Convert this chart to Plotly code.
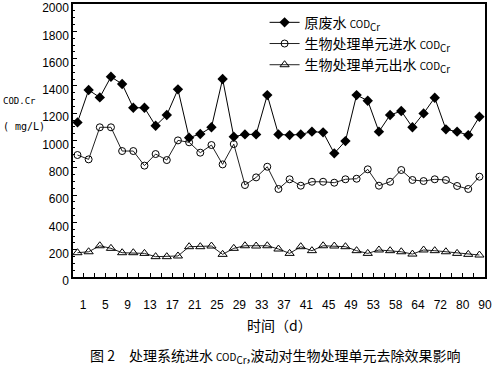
import plotly.graph_objects as go

# ---- data ----
day_labels = ["1", "5", "9", "13", "17", "21", "25", "29", "33", "37",
              "41", "45", "49", "53", "58", "64", "72", "80", "90"]

y_ticks = [0, 200, 400, 600, 800, 1000, 1200, 1400, 1600, 1800, 2000]

raw_cod = [1133, 1370, 1316, 1467, 1414, 1240, 1240, 1108, 1187, 1375,
           1021, 1048, 1097, 1451, 1028, 1045, 1045, 1333, 1045, 1040,
           1045, 1065, 1060, 906, 996, 1333, 1292, 1065, 1187, 1216,
           1097, 1199, 1314, 1082, 1065, 1040, 1174]

inlet_cod = [894, 862, 1097, 1097, 923, 923, 816, 901, 857, 1001,
             987, 911, 967, 825, 974, 674, 730, 808, 645, 716,
             669, 698, 698, 691, 716, 720, 789, 669, 698, 784,
             711, 703, 716, 711, 667, 645, 735]

outlet_cod = [178, 185, 229, 210, 178, 178, 173, 149, 149, 154,
              222, 222, 227, 166, 210, 229, 227, 229, 205, 173,
              222, 193, 229, 227, 222, 193, 173, 198, 193, 185,
              168, 198, 193, 185, 173, 166, 161]

series_names = [
    "原废水 <span style='font-size:10px'>COD</span><sub>Cr</sub>",
    "生物处理单元进水 <span style='font-size:10px'>COD</span><sub>Cr</sub>",
    "生物处理单元出水 <span style='font-size:10px'>COD</span><sub>Cr</sub>",
]

x_idx = list(range(len(raw_cod)))

# tick marks every category boundary, labels on every other one
tick_vals = [i + 0.5 for i in range(len(raw_cod))]
tick_text = []
for j in range(len(tick_vals)):
    tick_text.append(day_labels[j // 2] if j % 2 == 0 and j // 2 < len(day_labels) else "")

fig = go.Figure()
fig.add_trace(go.Scatter(
    x=x_idx, y=raw_cod, name=series_names[0], mode="lines+markers",
    line=dict(color="black", width=1),
    marker=dict(symbol="diamond", size=8, color="black"),
))
fig.add_trace(go.Scatter(
    x=x_idx, y=inlet_cod, name=series_names[1], mode="lines+markers",
    line=dict(color="#222222", width=1),
    marker=dict(symbol="circle-open", size=7, color="black", line=dict(width=1)),
))
fig.add_trace(go.Scatter(
    x=x_idx, y=outlet_cod, name=series_names[2], mode="lines+markers",
    line=dict(color="#222222", width=1),
    marker=dict(symbol="triangle-up-open", size=8, color="black", line=dict(width=1)),
))

tick_font = dict(family="Liberation Sans", size=12, color="black")

fig.update_layout(
    width=493, height=365,
    margin=dict(l=73, r=8, t=4, b=88, autoexpand=False),
    paper_bgcolor="white", plot_bgcolor="white",
    showlegend=True,
    legend=dict(
        x=0.465, y=0.99, xanchor="left", yanchor="top",
        bgcolor="rgba(255,255,255,0)", borderwidth=0,
        font=dict(family="Noto Sans CJK SC", size=14, color="black"),
        itemwidth=30, tracegroupgap=2,
    ),
    xaxis=dict(
        range=[-0.4, 36.5], automargin=False,
        tickmode="array", tickvals=tick_vals, ticktext=tick_text,
        ticks="inside", ticklen=4, tickcolor="black",
        showline=True, linecolor="black", linewidth=1.5, mirror=True,
        showgrid=False, zeroline=False,
        tickfont=tick_font, ticklabelstandoff=16, ticklabeloverflow="allow",
    ),
    yaxis=dict(
        range=[0, 2000.5], automargin=False,
        tickmode="array", tickvals=y_ticks,
        ticks="inside", ticklen=4, tickcolor="black",
        minor=dict(ticks="inside", ticklen=2, tickvals=list(range(0, 2001, 50)), tickcolor="black"),
        showline=True, linecolor="black", linewidth=1.5, mirror=True,
        showgrid=False, zeroline=False,
        tickfont=tick_font, ticklabelshift=4, ticklabeloverflow="allow",
    ),
)

fig.add_annotation(text="COD.Cr", xref="paper", yref="paper",
                   x=-0.175, y=0.645, xanchor="left", yanchor="middle", showarrow=False,
                   font=dict(family="DejaVu Sans Mono", size=9, color="black"))
fig.add_annotation(text="( mg/L)", xref="paper", yref="paper",
                   x=-0.175, y=0.55, xanchor="left", yanchor="middle", showarrow=False,
                   font=dict(family="DejaVu Sans Mono", size=10, color="black"))
fig.add_annotation(text="时间（d）", xref="paper", yref="paper",
                   x=0.5, y=-0.175, xanchor="center", yanchor="middle", showarrow=False,
                   font=dict(family="Noto Sans CJK SC", size=14, color="black"))
fig.add_annotation(text="图 2　处理系统进水 <span style='font-size:10px'>COD</span><sub>Cr</sub>,波动对生物处理单元去除效果影响",
                   xref="paper", yref="paper",
                   x=0.49, y=-0.29, xanchor="center", yanchor="middle", showarrow=False,
                   font=dict(family="Noto Sans CJK SC", size=14, color="black"))

fig.write_html("out.html", post_script="document.body.style.margin='0';",
               config={"displayModeBar": False})
